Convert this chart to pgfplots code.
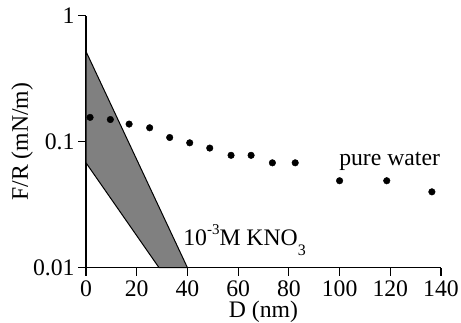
\documentclass[border=0pt]{standalone}
\usepackage{pgfplots}
\pgfplotsset{compat=1.18}
\usepackage{fontspec}
\setmainfont{Liberation Serif}
\begin{document}
\begin{tikzpicture}[font=\fontsize{23.7}{28}\selectfont]
\begin{axis}[
  scale only axis,
  width=355pt, height=252pt,
  xmin=0, xmax=140, ymin=0.01, ymax=1,
  ymode=log,
  axis lines=left,
  axis line style={-, line width=1.1pt},
  xtick={0,20,40,60,80,100,120,140},
  xticklabels={0,20,40,60,80,100,120,140},
  ytick={0.01,0.1,1},
  yticklabels={0.01,0.1,1},
  yminorticks=false,
  tick align=outside,
  major tick length=8pt,
  tick style={line width=1.1pt, black},
  xticklabel style={inner sep=1pt, yshift=-4pt},
  xlabel={D (nm)},
  ylabel={F/R (mN/m)},
  xlabel style={at={(axis description cs:0.5,-0.130)}, anchor=north, inner sep=0pt},
  ylabel style={at={(axis description cs:-0.18,0.5)}, anchor=center, rotate=0},
  clip=false,
]
\path (rel axis cs:-0.2423,-0.2155) rectangle (rel axis cs:1.0563,1.0623);
\addplot[fill=gray, draw=black, line width=1pt] coordinates {
  (0,0.52) (40,0.01) (28.8,0.01) (0,0.068)
} -- cycle;
\addplot[only marks, mark=*, mark size=3.3pt, black] coordinates {
  (1.6,0.156) (9.6,0.150) (17.0,0.138) (25.1,0.129) (33.0,0.108)
  (40.9,0.098) (48.8,0.089) (57.2,0.078) (65.1,0.078) (73.5,0.068)
  (82.5,0.068) (100.0,0.049) (118.6,0.049) (136.4,0.040)
};
\node[anchor=base west, inner sep=0pt] at (axis cs:99.8,0.0653) {pure water};
\node[anchor=base west, inner sep=0pt] at (axis cs:38.3,0.0151)
  {10\raisebox{11pt}{\fontsize{15}{15}\selectfont -3}M KNO\raisebox{-10pt}{\fontsize{16}{16}\selectfont 3}};
\end{axis}
\end{tikzpicture}
\end{document}
